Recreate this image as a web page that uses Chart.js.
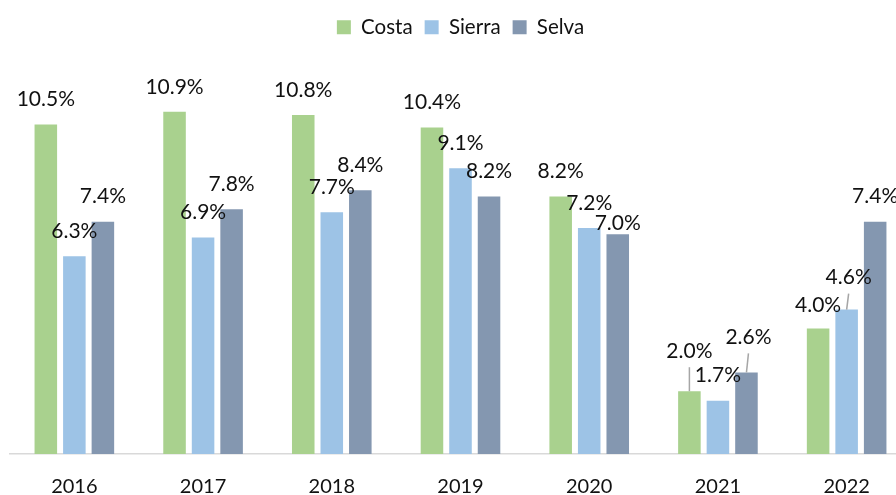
<!DOCTYPE html>
<html>
<head>
<meta charset="utf-8">
<script src="https://cdn.jsdelivr.net/npm/chart.js@4/dist/chart.umd.min.js"></script>
<style>
  html, body { margin: 0; padding: 0; background: #fff; overflow: hidden; }
  #wrap { position: relative; width: 912px; height: 520px; }
</style>
</head>
<body>
<div id="wrap"><canvas id="chart"></canvas></div>
<script>
var years = ["2016", "2017", "2018", "2019", "2020", "2021", "2022"];
var costa = [10.5, 10.9, 10.8, 10.4, 8.2, 2.0, 4.0];
var sierra = [6.3, 6.9, 7.7, 9.1, 7.2, 1.7, 4.6];
var selva = [7.4, 7.8, 8.4, 8.2, 7.0, 2.6, 7.4];

var FONT = "Lato, 'Open Sans', sans-serif";

// where Excel moved a label away from its default spot: [dx, dy, leader line]
var nudges = {
  "Selva|2020": [0, 14, false],
  "Costa|2021": [0, -15, true],
  "Selva|2021": [2, -10, true],
  "Costa|2022": [0, 2, false],
  "Sierra|2022": [2, -7, true]
};

var valueLabels = {
  id: "valueLabels",
  afterDatasetsDraw: function (chart) {
    var ctx = chart.ctx;
    ctx.save();
    ctx.font = "21px " + FONT;
    ctx.textAlign = "center";
    ctx.textBaseline = "middle";
    chart.data.datasets.forEach(function (ds, i) {
      var meta = chart.getDatasetMeta(i);
      meta.data.forEach(function (bar, j) {
        var n = nudges[ds.label + "|" + years[j]] || [0, 0, false];
        var lx = bar.x + n[0];
        var ly = bar.y - 25 + n[1];
        if (n[2]) {
          ctx.strokeStyle = "#a6a6a6";
          ctx.lineWidth = 1.5;
          ctx.beginPath();
          ctx.moveTo(lx, ly + 16);
          ctx.lineTo(bar.x, bar.y);
          ctx.stroke();
        }
        ctx.fillStyle = "#111";
        ctx.fillText(ds.data[j].toFixed(1) + "%", lx, ly);
      });
    });
    ctx.restore();
  }
};

new Chart(document.getElementById("chart"), {
  type: "bar",
  data: {
    labels: years,
    datasets: [
      { label: "Costa", data: costa, backgroundColor: "#a9d18e" },
      { label: "Sierra", data: sierra, backgroundColor: "#9dc3e6" },
      { label: "Selva", data: selva, backgroundColor: "#8497b0" }
    ]
  },
  options: {
    responsive: true,
    maintainAspectRatio: false,
    animation: false,
    categoryPercentage: 0.665,
    barPercentage: 0.79,
    layout: { padding: { left: 10, right: 1, top: 5, bottom: 0 } },
    plugins: {
      legend: {
        position: "top",
        labels: {
          boxWidth: 14,
          boxHeight: 14,
          padding: 12,
          color: "#111",
          font: { family: FONT, size: 20.5 }
        }
      },
      tooltip: { enabled: false }
    },
    scales: {
      x: {
        grid: { display: false, drawTicks: false },
        border: { display: true, color: "#d9d9d9", width: 1.5 },
        ticks: { color: "#111", padding: 23, font: { family: FONT, size: 20, lineHeight: 1 } }
      },
      y: { display: false, min: 0, max: 12.95 }
    }
  },
  plugins: [valueLabels]
});
</script>
</body>
</html>
